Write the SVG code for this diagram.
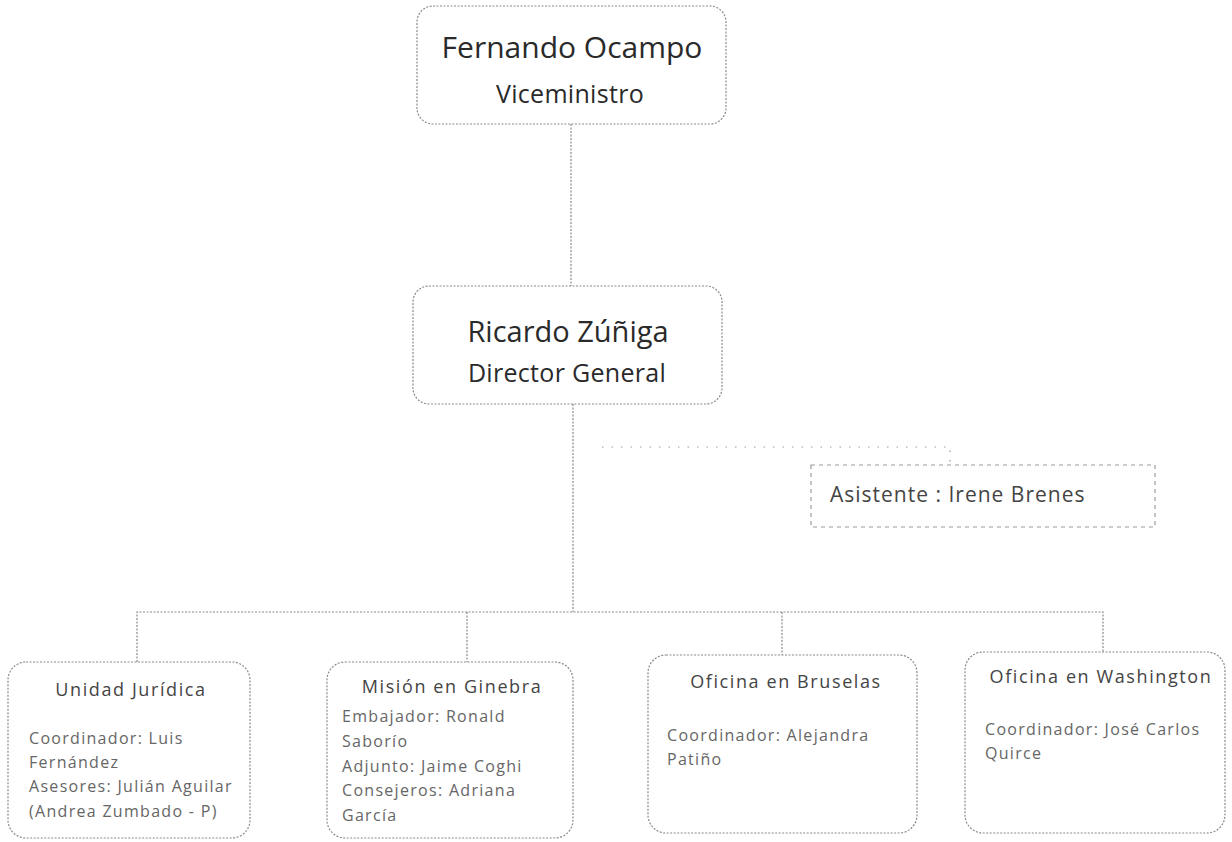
<svg xmlns="http://www.w3.org/2000/svg" width="1232" height="842" viewBox="0 0 1232 842">
<style>
.box{fill:#fff;stroke:#8a8a8a;stroke-width:1.2;stroke-dasharray:2 1.5}
.sbox{fill:#fff;stroke:#9a9a9a;stroke-width:1.2;stroke-dasharray:4 4}
.big{font-family:"Open Sans","Liberation Sans",sans-serif;fill:#2a2a2a;text-anchor:middle}
.ttl{font-family:"Open Sans","Liberation Sans",sans-serif;font-size:18px;letter-spacing:1.6px;fill:#444;text-anchor:middle}
.body{font-family:"Open Sans","Liberation Sans",sans-serif;font-size:16px;letter-spacing:1.3px;fill:#666}
.ln{fill:none;stroke:#8a8a8a;stroke-width:1.2;stroke-dasharray:2 1.5}
.dl{fill:none;stroke:#999;stroke-width:1.2;stroke-dasharray:1.5 8}
</style>
<rect width="1232" height="842" fill="#fff"/>
<g id="connectors">
<path class="ln" d="M571 124V287"/>
<path class="ln" d="M573 404V612"/>
<path class="ln" d="M137 662V612H1103V652"/>
<path class="ln" d="M467 612V662"/>
<path class="ln" d="M782 612V655"/>
<path class="dl" d="M602 447H950V464"/>
</g>
<g id="viceministro">
<rect class="box" x="417" y="6" width="309" height="118" rx="16"/>
<text class="big" x="572" y="58" font-size="30">Fernando Ocampo</text>
<text class="big" x="570" y="103" font-size="25" letter-spacing="0.3">Viceministro</text>
</g>
<g id="director">
<rect class="box" x="413" y="286" width="309" height="118" rx="16"/>
<text class="big" x="568" y="342" font-size="29">Ricardo Zúñiga</text>
<text class="big" x="567" y="382" font-size="25" letter-spacing="0.3">Director General</text>
</g>
<g id="asistente">
<rect class="sbox" x="811" y="465" width="344" height="62"/>
<text x="830" y="502" font-family="Open Sans, Liberation Sans, sans-serif" font-size="21" letter-spacing="1" fill="#444">Asistente : Irene Brenes</text>
</g>
<g id="juridica">
<rect class="box" x="8" y="662" width="242" height="176" rx="18"/>
<text class="ttl" x="131" y="696">Unidad Jurídica</text>
<text class="body" x="29" y="744">Coordinador: Luis</text>
<text class="body" x="29" y="768">Fernández</text>
<text class="body" x="29" y="792">Asesores: Julián Aguilar</text>
<text class="body" x="29" y="817">(Andrea Zumbado - P)</text>
</g>
<g id="ginebra">
<rect class="box" x="327" y="662" width="246" height="176" rx="18"/>
<text class="ttl" x="452" y="693">Misión en Ginebra</text>
<text class="body" x="342" y="722">Embajador: Ronald</text>
<text class="body" x="342" y="747">Saborío</text>
<text class="body" x="342" y="772">Adjunto: Jaime Coghi</text>
<text class="body" x="342" y="796">Consejeros: Adriana</text>
<text class="body" x="342" y="821">García</text>
</g>
<g id="bruselas">
<rect class="box" x="648" y="655" width="269" height="178" rx="18"/>
<text class="ttl" x="786" y="688">Oficina en Bruselas</text>
<text class="body" x="667" y="741">Coordinador: Alejandra</text>
<text class="body" x="667" y="765">Patiño</text>
</g>
<g id="washington">
<rect class="box" x="965" y="652" width="260" height="181" rx="18"/>
<text class="ttl" x="1101" y="683">Oficina en Washington</text>
<text class="body" x="985" y="735">Coordinador: José Carlos</text>
<text class="body" x="985" y="759">Quirce</text>
</g>
</svg>
